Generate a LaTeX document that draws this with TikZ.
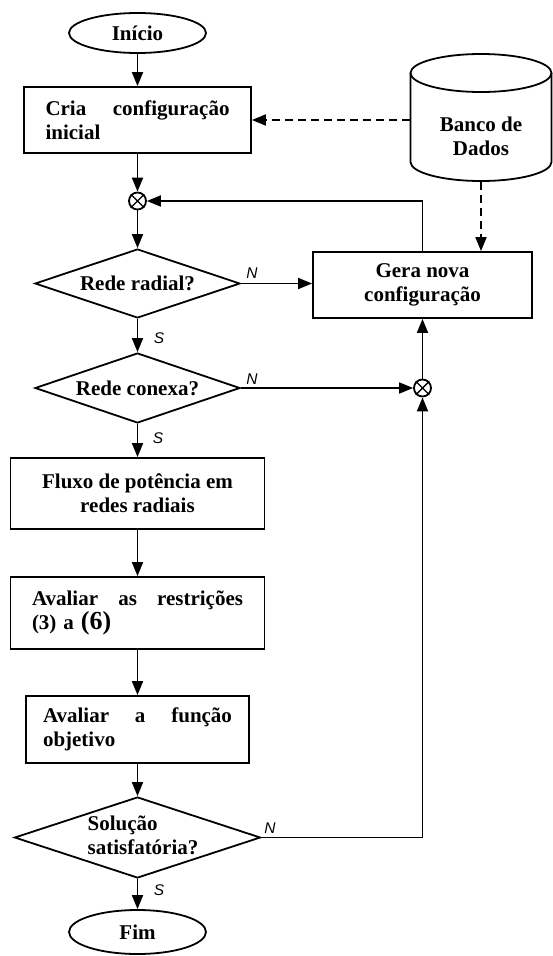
\documentclass[tikz,border=0pt]{standalone}
\usepackage{fontspec}
\setmainfont{Liberation Serif}
\newfontfamily\labfont{Liberation Sans}
\usetikzlibrary{shapes.geometric,arrows.meta}
\begin{document}
\begin{tikzpicture}[x=1pt,y=-1pt, line width=1.8pt,
  font=\fontsize{21}{24}\selectfont\bfseries,
  box/.style={draw, rectangle, inner sep=0pt},
  dia/.style={draw, diamond, inner sep=0pt},
  term/.style={draw, ellipse, inner sep=0pt, minimum width=137pt},
  junc/.style={draw, circle, inner sep=0pt, minimum size=17pt},
  arr/.style={-{Triangle[length=14pt,width=11pt]}},
  dsh/.style={dash pattern=on 8pt off 5pt},
  lab/.style={font=\labfont\itshape\fontsize{15.5}{17}\selectfont, inner sep=0pt}]
\useasboundingbox (0,0) rectangle (553,956);

% main column
\node[term, minimum height=40pt] (ini) at (137.5,33) {Início};
\node[box, minimum width=227pt, minimum height=66pt, text width=184pt, align=left] (cria) at (137.5,120) {Cria\hfill configuração\\inicial};
\node[junc] (j1) at (137.5,201) {};
\node[dia, minimum width=205pt, minimum height=69pt] (d1) at (137.5,283.5) {};
\node (t1) at (d1.center) {Rede radial?};
\node[dia, minimum width=205pt, minimum height=70pt] (d2) at (137.5,388) {};
\node (t2) at (d2.center) {Rede conexa?};
\node[box, minimum width=254pt, minimum height=71pt, align=center] (fluxo) at (137.5,493.5) {Fluxo de potência em\\redes radiais};
\node[box, minimum width=254pt, minimum height=72pt, text width=211pt, align=left] (aval) at (137.5,613) {Avaliar\hfill as\hfill restrições\\(3) a {\fontsize{26}{24}\selectfont(6)}};
\node[box, minimum width=223pt, minimum height=67pt, text width=189pt, align=left] (func) at (137.5,729.5) {Avaliar\hfill a\hfill função\\objetivo};
\node[dia, minimum width=246pt, minimum height=81pt] (d3) at (137.5,837.5) {};
\node[align=left] (t3) at (143,835) {Solução\\satisfatória?};
\node[term, minimum height=44pt] (fim) at (137.5,932) {Fim};

% right column
\node[box, minimum width=219pt, minimum height=66pt, align=center] (gera) at (422.5,285) {Gera nova\\configuração};
\node[junc] (j2) at (422.5,388) {};

% database cylinder
\node[minimum width=141pt, minimum height=127pt, inner sep=0pt] (db) at (481,117.5) {};
\draw (410.5,73) -- (410.5,162) arc[start angle=180, end angle=0, x radius=70.5, y radius=19] -- (551.5,73);
\draw (481,73) ellipse [x radius=70.5, y radius=19];
\node[align=center] (dbt) at (481,136.5) {Banco de\\Dados};

% junction crosses
\foreach \j in {j1,j2} {
  \draw[line width=1.4pt] (\j.45) -- (\j.225) (\j.135) -- (\j.315);
}

% labels
\node[lab] (n1) at (252,273) {N};
\node[lab] (n2) at (252,379) {N};
\node[lab] (n3) at (270,828) {N};
\node[lab] (s1) at (159,338) {S};
\node[lab] (s2) at (158,438) {S};
\node[lab] (s3) at (159,890) {S};

% connectors
\draw[arr] (ini) -- (cria);
\draw[arr] (cria) -- (j1);
\draw[arr] (j1) -- (d1);
\draw[arr] (d1) -- (d2);
\draw[arr] (d2) -- (fluxo);
\draw[arr] (fluxo) -- (aval);
\draw[arr] (aval) -- (func);
\draw[arr] (func) -- (d3);
\draw[arr] (d3) -- (fim);
\draw[arr] (d1.east) -- (d1.east -| gera.west);
\draw[arr] (d2.east) -- (j2);
\draw[arr] (j2) -- (gera);
\draw[arr] (gera.north) |- (j1);
\draw[arr] (d3.east) -| (j2);
\draw[arr, dsh] (db.west |- cria.east) -- (cria.east);
\draw[arr, dsh] (db.south) -- (db.south |- gera.north);
\end{tikzpicture}
\end{document}
